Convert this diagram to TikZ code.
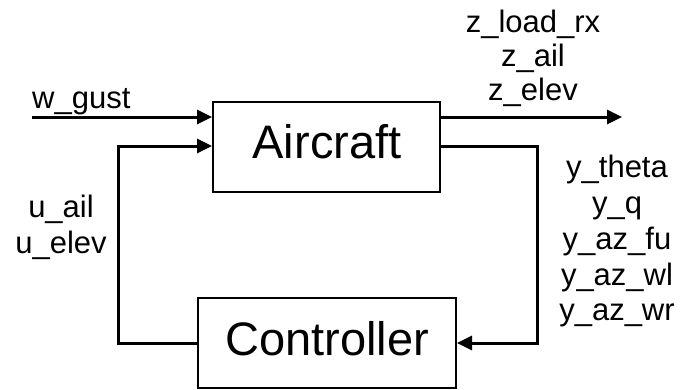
\documentclass[tikz,border=0pt]{standalone}
\usepackage{fontspec}
\setmainfont{Liberation Sans}
\usetikzlibrary{arrows.meta}
\begin{document}
\begin{tikzpicture}[x=1pt,y=-1pt,
  blk/.style={draw,line width=2pt,minimum width=#1,minimum height=90pt,inner sep=0pt,font=\fontsize{47}{50}\selectfont},
  lbl/.style={inner sep=0pt,font=\fontsize{31}{35}\selectfont},
  conn/.style={line width=3pt},
  arr/.style={conn,-{Triangle[length=15pt,width=14pt]}}]
\useasboundingbox (0,0) rectangle (680,389);
\node[blk=227pt] (A) at (326.5,147) {};
\node[lbl,font=\fontsize{47}{50}\selectfont,anchor=base] (At) at (327,158) {Aircraft};
\node[blk=258pt] (C) at (327,343) {};
\node[lbl,font=\fontsize{47}{50}\selectfont,anchor=base] (Ct) at (327,355) {Controller};
% coordinates
\coordinate (wg) at (32,117);
\coordinate (zo) at (622,117);
\coordinate (yr) at (537,146);
\coordinate (ul) at (118,146);
% connectors
\draw[arr] (wg) -- (wg -| A.west);
\draw[arr] (A.east |- zo) -- (zo);
\draw[arr] (A.east |- yr) -- (yr) |- (C.east);
\draw[arr] (C.west) -| (ul) -- (ul -| A.west);
% labels
\node[lbl,anchor=base west] (wgt) at (32,108) {w\_gust};
\node[lbl,anchor=base] (z1) at (533,32) {z\_load\_rx};
\node[lbl,anchor=base] (z2) at (533,66) {z\_ail};
\node[lbl,anchor=base] (z3) at (533,100) {z\_elev};
\node[lbl,anchor=base] (y1) at (617,177) {y\_theta};
\node[lbl,anchor=base] (y2) at (617,213) {y\_q};
\node[lbl,anchor=base] (y3) at (617,249) {y\_az\_fu};
\node[lbl,anchor=base] (y4) at (617,285) {y\_az\_wl};
\node[lbl,anchor=base] (y5) at (617,320) {y\_az\_wr};
\node[lbl,anchor=base] (u1) at (61,217) {u\_ail};
\node[lbl,anchor=base] (u2) at (61,253) {u\_elev};
\end{tikzpicture}
\end{document}
